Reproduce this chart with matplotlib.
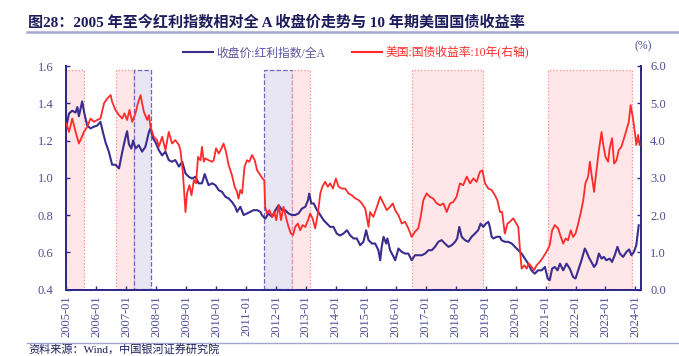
import matplotlib
matplotlib.use("Agg")
import matplotlib.pyplot as plt
from matplotlib.lines import Line2D
from matplotlib.patches import Rectangle

plt.rcParams["font.family"] = ["Liberation Serif", "Noto Sans CJK SC"]

# ---------------------------------------------------------------------------
# Data (decimal years)
# ---------------------------------------------------------------------------
ratio_x = [2005.00, 2005.09, 2005.20, 2005.31, 2005.37, 2005.42, 2005.53, 2005.61, 2005.70, 2005.81,
           2005.92, 2006.03, 2006.14, 2006.23, 2006.31, 2006.42, 2006.53, 2006.64, 2006.76, 2006.87,
           2006.98, 2007.03, 2007.09, 2007.17, 2007.23, 2007.31, 2007.42, 2007.53, 2007.64, 2007.76,
           2007.81, 2007.90, 2007.98, 2008.09, 2008.20, 2008.31, 2008.42, 2008.53, 2008.64, 2008.76,
           2008.87, 2008.98, 2009.09, 2009.20, 2009.31, 2009.42, 2009.53, 2009.62, 2009.75, 2009.87,
           2009.98, 2010.09, 2010.20, 2010.31, 2010.42, 2010.53, 2010.64, 2010.70, 2010.81, 2010.92,
           2011.03, 2011.14, 2011.25, 2011.37, 2011.48, 2011.53, 2011.64, 2011.75, 2011.87, 2011.98,
           2012.09, 2012.20, 2012.31, 2012.42, 2012.53, 2012.64, 2012.75, 2012.87, 2012.98, 2013.07,
           2013.11, 2013.18, 2013.26, 2013.37, 2013.48, 2013.59, 2013.70, 2013.81, 2013.92, 2014.03,
           2014.14, 2014.25, 2014.37, 2014.48, 2014.59, 2014.70, 2014.81, 2014.92, 2015.01, 2015.09,
           2015.20, 2015.31, 2015.42, 2015.48, 2015.53, 2015.59, 2015.68, 2015.72, 2015.81, 2015.90,
           2015.98, 2016.09, 2016.20, 2016.31, 2016.42, 2016.53, 2016.64, 2016.75, 2016.87, 2016.98,
           2017.09, 2017.20, 2017.31, 2017.42, 2017.53, 2017.64, 2017.76, 2017.87, 2017.98, 2018.05,
           2018.12, 2018.20, 2018.31, 2018.42, 2018.53, 2018.64, 2018.75, 2018.83, 2018.92, 2019.01,
           2019.09, 2019.14, 2019.20, 2019.26, 2019.37, 2019.48, 2019.53, 2019.64, 2019.75, 2019.87,
           2019.98, 2020.09, 2020.20, 2020.31, 2020.42, 2020.53, 2020.64, 2020.75, 2020.87, 2020.98,
           2021.07, 2021.14, 2021.22, 2021.31, 2021.40, 2021.48, 2021.59, 2021.70, 2021.81, 2021.92,
           2022.00, 2022.09, 2022.20, 2022.31, 2022.37, 2022.44, 2022.53, 2022.62, 2022.70, 2022.78,
           2022.87, 2022.95, 2023.03, 2023.14, 2023.22, 2023.31, 2023.40, 2023.48, 2023.59, 2023.70,
           2023.79, 2023.87, 2023.95, 2024.03, 2024.11]
ratio_y = [1.274, 1.345, 1.36, 1.35, 1.38, 1.33, 1.41, 1.34, 1.28, 1.265,
           1.274, 1.28, 1.30, 1.24, 1.19, 1.14, 1.07, 1.07, 1.05, 1.14,
           1.22, 1.25, 1.18, 1.157, 1.20, 1.157, 1.175, 1.14, 1.166, 1.247,
           1.265, 1.21, 1.19, 1.148, 1.12, 1.14, 1.095, 1.086, 1.095, 1.06,
           1.086, 1.023, 1.005, 0.996, 1.005, 0.97, 0.97, 1.02, 0.96, 0.97,
           0.96, 0.933, 0.924, 0.898, 0.889, 0.87, 0.844, 0.817, 0.844, 0.80,
           0.808, 0.817, 0.826, 0.826, 0.817, 0.80, 0.78, 0.808, 0.79, 0.826,
           0.853, 0.826, 0.826, 0.808, 0.80, 0.80, 0.808, 0.835, 0.844, 0.88,
           0.915, 0.862, 0.862, 0.826, 0.80, 0.772, 0.754, 0.736, 0.736, 0.70,
           0.69, 0.70, 0.718, 0.69, 0.674, 0.674, 0.638, 0.656, 0.718, 0.665,
           0.647, 0.647, 0.611, 0.557, 0.629, 0.683, 0.647, 0.674, 0.611, 0.584,
           0.557, 0.62, 0.602, 0.593, 0.593, 0.557, 0.584, 0.584, 0.584, 0.593,
           0.611, 0.611, 0.629, 0.656, 0.665, 0.647, 0.629, 0.638, 0.656, 0.674,
           0.736, 0.683, 0.665, 0.656, 0.683, 0.70, 0.718, 0.754, 0.736, 0.754,
           0.763, 0.736, 0.683, 0.674, 0.683, 0.683, 0.665, 0.656, 0.656, 0.647,
           0.629, 0.611, 0.593, 0.566, 0.539, 0.503, 0.485, 0.503, 0.503, 0.521,
           0.459, 0.45, 0.512, 0.521, 0.503, 0.539, 0.503, 0.539, 0.512, 0.467,
           0.459, 0.503, 0.557, 0.62, 0.602, 0.575, 0.548, 0.521, 0.539, 0.593,
           0.566, 0.575, 0.557, 0.566, 0.548, 0.584, 0.629, 0.593, 0.575, 0.602,
           0.615, 0.584, 0.602, 0.638, 0.745]

ust_x = [2005.00, 2005.09, 2005.20, 2005.31, 2005.42, 2005.50, 2005.59, 2005.70, 2005.81, 2005.92,
         2006.03, 2006.14, 2006.26, 2006.37, 2006.48, 2006.53, 2006.64, 2006.76, 2006.87, 2006.94,
         2007.03, 2007.11, 2007.20, 2007.31, 2007.39, 2007.48, 2007.53, 2007.59, 2007.70, 2007.76,
         2007.81, 2007.92, 2008.03, 2008.09, 2008.20, 2008.31, 2008.42, 2008.53, 2008.64, 2008.76,
         2008.81, 2008.89, 2008.98, 2009.03, 2009.11, 2009.18, 2009.26, 2009.33, 2009.40, 2009.48,
         2009.53, 2009.59, 2009.64, 2009.75, 2009.87, 2009.92, 2010.00, 2010.09, 2010.18, 2010.25,
         2010.33, 2010.42, 2010.53, 2010.62, 2010.70, 2010.75, 2010.81, 2010.87, 2010.95, 2011.03,
         2011.11, 2011.20, 2011.29, 2011.37, 2011.48, 2011.55, 2011.61, 2011.64, 2011.70, 2011.78,
         2011.87, 2011.94, 2012.01, 2012.09, 2012.17, 2012.25, 2012.33, 2012.42, 2012.50, 2012.57,
         2012.64, 2012.73, 2012.81, 2012.89, 2012.98, 2013.07, 2013.14, 2013.22, 2013.31, 2013.40,
         2013.48, 2013.55, 2013.64, 2013.73, 2013.81, 2013.90, 2014.00, 2014.09, 2014.20, 2014.31,
         2014.42, 2014.53, 2014.64, 2014.76, 2014.87, 2014.98, 2015.09, 2015.14, 2015.25, 2015.37,
         2015.48, 2015.59, 2015.70, 2015.81, 2015.90, 2015.98, 2016.09, 2016.20, 2016.31, 2016.42,
         2016.53, 2016.64, 2016.75, 2016.83, 2016.92, 2017.03, 2017.14, 2017.25, 2017.37, 2017.48,
         2017.59, 2017.70, 2017.81, 2017.92, 2018.03, 2018.14, 2018.25, 2018.37, 2018.48, 2018.59,
         2018.70, 2018.81, 2018.89, 2018.98, 2019.09, 2019.20, 2019.31, 2019.39, 2019.48, 2019.55,
         2019.64, 2019.73, 2019.81, 2019.92, 2019.99, 2020.09, 2020.14, 2020.20, 2020.29, 2020.37,
         2020.44, 2020.53, 2020.62, 2020.70, 2020.81, 2020.92, 2021.03, 2021.14, 2021.22, 2021.31,
         2021.42, 2021.51, 2021.59, 2021.67, 2021.75, 2021.84, 2021.92, 2022.00, 2022.09, 2022.18,
         2022.26, 2022.33, 2022.42, 2022.48, 2022.53, 2022.62, 2022.70, 2022.78, 2022.87, 2022.92,
         2023.00, 2023.09, 2023.14, 2023.22, 2023.29, 2023.37, 2023.44, 2023.53, 2023.62, 2023.70,
         2023.78, 2023.84, 2023.92, 2023.98, 2024.03, 2024.09, 2024.14]
ust_y = [4.46, 4.23, 4.59, 4.23, 3.92, 4.06, 4.23, 4.37, 4.59, 4.50,
         4.55, 4.59, 5.00, 5.13, 5.22, 5.04, 4.82, 4.68, 4.59, 4.73,
         4.55, 4.82, 4.50, 4.73, 5.00, 5.22, 5.00, 4.77, 4.55, 4.68,
         4.37, 4.10, 4.01, 3.83, 4.10, 3.74, 4.23, 3.92, 4.01, 3.88,
         3.74, 3.16, 2.08, 2.58, 2.80, 2.53, 2.94, 2.85, 3.56, 3.47,
         3.83, 3.43, 3.52, 3.47, 3.43, 3.47, 3.79, 3.65, 3.79, 3.92,
         3.70, 3.34, 3.07, 2.76, 2.62, 2.44, 2.67, 2.58, 3.29, 3.47,
         3.43, 3.61, 3.47, 3.20, 3.07, 2.98, 2.94, 2.22, 2.04, 2.13,
         1.95, 2.08, 1.86, 2.26, 1.86, 2.22, 1.95, 1.68, 1.50, 1.46,
         1.68, 1.77, 1.59, 1.73, 1.68, 1.86, 2.04, 1.91, 1.64, 2.04,
         2.58, 2.76, 2.89, 2.76, 2.85, 2.71, 2.98, 2.76, 2.71, 2.71,
         2.58, 2.53, 2.45, 2.40, 2.31, 2.17, 1.68, 2.08, 1.95, 2.22,
         2.49, 2.31, 2.13, 2.22, 2.31, 2.13, 1.99, 1.77, 1.82, 1.64,
         1.41, 1.55, 1.64, 1.95, 2.40, 2.58, 2.49, 2.44, 2.31, 2.26,
         2.31, 2.08, 2.31, 2.35, 2.49, 2.85, 2.80, 3.03, 2.85, 2.98,
         2.89, 3.16, 3.20, 2.85, 2.71, 2.67, 2.53, 2.40, 2.08, 2.08,
         1.50, 1.77, 1.82, 1.91, 1.82, 1.68, 1.14, 0.56, 0.65, 0.56,
         0.70, 0.61, 0.52, 0.65, 0.74, 0.87, 1.01, 1.19, 1.59, 1.73,
         1.64, 1.41, 1.23, 1.37, 1.32, 1.59, 1.41, 1.50, 1.77, 2.08,
         2.40, 2.85, 3.03, 3.43, 3.12, 2.62, 3.20, 3.74, 4.23, 3.92,
         3.56, 3.43, 3.79, 4.06, 3.38, 3.47, 3.74, 3.83, 4.06, 4.28,
         4.50, 4.95, 4.59, 4.23, 3.88, 4.15, 3.88]

# shaded periods
span_start = [2005.00, 2006.67, 2007.25, 2011.61, 2012.54, 2016.53, 2021.09]
span_end = [2005.59, 2007.25, 2007.83, 2012.54, 2013.15, 2018.92, 2023.89]
span_kind = ["red", "red", "blue", "blue", "red", "red", "red"]

tick_years = list(range(2005, 2025))

# ---------------------------------------------------------------------------
BLUE = "#3a2d8f"
RED = "#ff2b2b"
AXIS = "#302b8a"
TICKTXT = "#4d4d94"
TITLE = "#1c1c5c"
RULE = "#a5a5cf"

fig = plt.figure(figsize=(6.79, 3.56), dpi=100)
ax = fig.add_axes([66 / 679, 1 - 289.5 / 356, (640.5 - 66) / 679, (289.5 - 66) / 356])
ax2 = ax.twinx()

# shaded boxes sit on the left axes, which is drawn beneath the twin
for s, e, k in zip(span_start, span_end, span_kind):
    if k == "red":
        fc, ec, ls = "#ffe6e8", "#ff8a8a", ":"
    else:
        fc, ec, ls = "#e8e6f3", "#6f63c0", "--"
    ax.add_patch(Rectangle((s, 0.405), e - s, 1.58 - 0.405, facecolor=fc,
                           edgecolor=ec, linestyle=ls, linewidth=0.9, zorder=1))

ax.plot(ratio_x, ratio_y, color=BLUE, linewidth=1.5, zorder=3)
ax2.plot(ust_x, ust_y, color=RED, linewidth=1.3, zorder=3)

ax.set_xlim(2004.99, 2024.17)
ax.set_ylim(0.4, 1.6)
ax2.set_ylim(0, 6)
ax.set_yticks([0.4, 0.6, 0.8, 1.0, 1.2, 1.4, 1.6])
ax.set_yticklabels([f"{v:.1f}" for v in [0.4, 0.6, 0.8, 1.0, 1.2, 1.4, 1.6]])
ax2.set_yticks(range(0, 7))
ax2.set_yticklabels([f"{v:.1f}" for v in range(0, 7)])
ax.set_xticks(tick_years)
ax.set_xticklabels([f"{y}-01" for y in tick_years], rotation=90)

for a in (ax, ax2):
    a.spines["top"].set_visible(False)
    for sp in ("left", "right", "bottom"):
        a.spines[sp].set_color(AXIS)
        a.spines[sp].set_linewidth(1.4)
    a.tick_params(direction="in", length=3, width=1, color=AXIS,
                  labelcolor=TICKTXT, labelsize=9)
ax.tick_params(axis="y", pad=9)
ax2.tick_params(axis="y", pad=7)
ax.tick_params(axis="x", pad=4)

# title, rules, legend, source
fig.text(28 / 679, 1 - 22 / 356, "图28：2005 年至今红利指数相对全 A 收盘价走势与 10 年期美国国债收益率",
         fontsize=10.9, fontweight="bold", color=TITLE, va="center", ha="left")
fig.add_artist(Line2D([27 / 679, 1.0], [1 - 32 / 356, 1 - 32 / 356], color=RULE, linewidth=1.8))
fig.add_artist(Line2D([27 / 679, 1.0], [1 - 343 / 356, 1 - 343 / 356], color=RULE, linewidth=1.0))
fig.text(28 / 679, 1 - 355 / 356, "资料来源：Wind，中国银河证券研究院", fontsize=8,
         color=TITLE, va="bottom", ha="left")

handles = [Line2D([], [], color=BLUE, linewidth=1.5), Line2D([], [], color=RED, linewidth=1.5)]
leg = fig.legend(handles, ["收盘价:红利指数/全A", "美国:国债收益率:10年(右轴)"],
                 loc="center", bbox_to_anchor=(356 / 679, 1 - 53 / 356), ncol=2,
                 frameon=False, fontsize=8.5, handlelength=2.6, handletextpad=0.3,
                 columnspacing=2.2)
for txt, c in zip(leg.get_texts(), ["#5a559c", RED]):
    txt.set_color(c)
fig.text(643 / 679, 1 - 46 / 356, "(%)", fontsize=8.5, color=TICKTXT, ha="center", va="center")

fig.savefig("out.png", dpi=100)
